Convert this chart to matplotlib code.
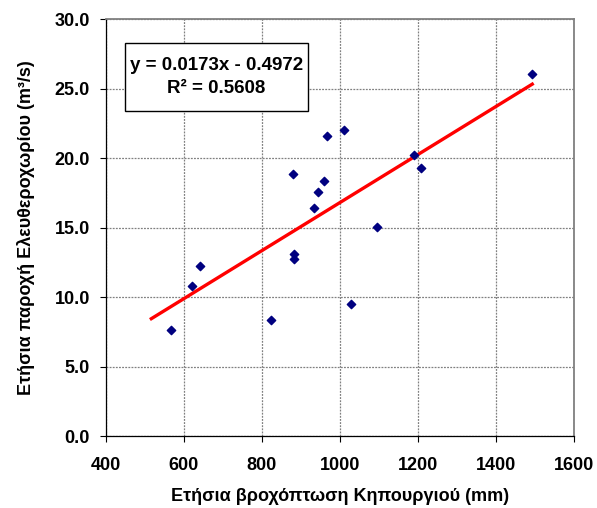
import matplotlib.pyplot as plt
from matplotlib.patches import Rectangle
import numpy as np

rain = [567, 622, 641, 823, 881, 883, 883, 933, 943, 960, 967, 1010, 1028, 1096, 1190, 1208, 1493]
flow = [7.63, 10.82, 12.22, 8.33, 18.86, 13.08, 12.72, 16.44, 17.57, 18.34, 21.62, 22.05, 9.52, 15.05, 20.25, 19.27, 26.04]

slope = 0.0173
intercept = -0.4972
r2 = 0.5608

plt.rcParams['font.family'] = ['Liberation Sans', 'DejaVu Sans']
plt.rcParams['font.weight'] = 'bold'

fig = plt.figure(figsize=(5.97, 5.08), dpi=100)
ax = fig.add_axes([0.177, 0.1417, 0.7845, 0.8203])

ax.grid(True, color='#808080', linestyle=(0, (1.5, 1)), linewidth=0.9)
ax.set_axisbelow(True)

xs = np.array([min(rain) - 50, max(rain)])
ax.plot(xs, slope * xs + intercept, color='red', linewidth=2.4, zorder=2)
ax.scatter(rain, flow, marker='D', s=18, color='#000080', zorder=3)

ax.set_xlim(400, 1600)
ax.set_ylim(0, 30)
ax.set_xticks(range(400, 1601, 200))
ax.set_yticks(np.arange(0, 30.1, 5))
ax.set_yticklabels([f'{v:.1f}' for v in np.arange(0, 30.1, 5)])
ax.tick_params(direction='out', length=4.3, width=0.8, labelsize=13)
ax.tick_params(axis='y', pad=7)
ax.tick_params(axis='x', pad=11)

for s in ['top', 'right']:
    ax.spines[s].set_color('#808080')
    ax.spines[s].set_linewidth(1.3)
for s in ['left', 'bottom']:
    ax.spines[s].set_color('black')
    ax.spines[s].set_linewidth(0.9)

ax.set_xlabel('Ετήσια βροχόπτωση Κηπουργιού (mm)', fontsize=13, fontweight='bold', labelpad=10)
ax.set_ylabel('Ετήσια παροχή Ελευθεροχωρίου (m³/s)', fontsize=13, fontweight='bold', labelpad=14)

ax.add_patch(Rectangle((0.0412, 0.780), 0.391, 0.163, transform=ax.transAxes,
                       facecolor='white', edgecolor='black', linewidth=1, zorder=4))
ax.text(0.2366, 0.8615, f'y = {slope:.4f}x - {abs(intercept):.4f}\nR² = {r2:.4f}',
        transform=ax.transAxes, ha='center', va='center', fontsize=13.5, fontweight='bold',
        linespacing=1.4, zorder=5)

fig.savefig('out.png', dpi=100)
